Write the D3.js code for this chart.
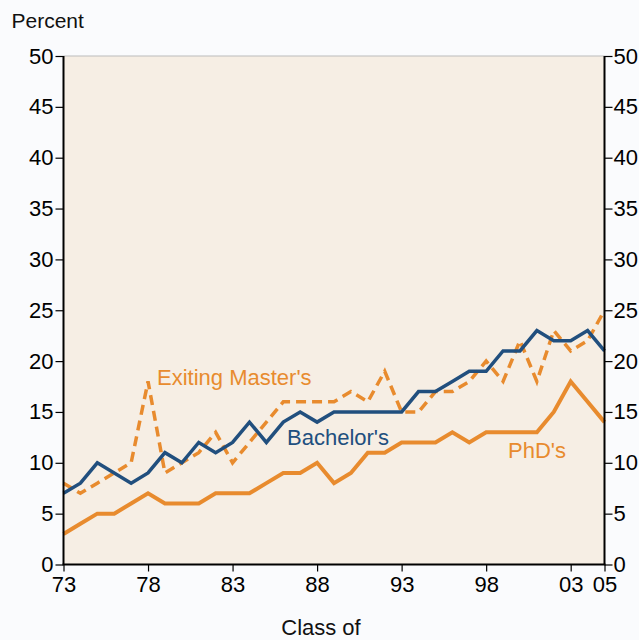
<!DOCTYPE html>
<html><head><meta charset="utf-8">
<script src="https://cdn.jsdelivr.net/npm/d3@7"></script>
<style>body{margin:0;background:#fafbfd;} svg{display:block;}</style>
</head><body>
<svg id="c" width="639" height="640"></svg>
<script>
const years = d3.range(1973, 2006);
const bachelors = [7,8,10,9,8,9,11,10,12,11,12,14,12,14,15,14,15,15,15,15,15,17,17,18,19,19,21,21,23,22,22,23,21];
const masters   = [8,7,8,9,10,18,9,10,11,13,10,12,14,16,16,16,16,17,16,19,15,15,17,17,18,20,18,22,18,23,21,22,25];
const phds      = [3,4,5,5,6,7,6,6,6,7,7,7,8,9,9,10,8,9,11,11,12,12,12,13,12,13,13,13,13,15,18,16,14];
const xTickYears = [1973,1978,1983,1988,1993,1998,2003,2005];
const yTicks = [0,5,10,15,20,25,30,35,40,45,50];

const svg = d3.select("#c");
const L = 63.5, R = 604.5, T = 56, B = 564.5;
const x = d3.scaleLinear().domain([1973, 2005]).range([L, R]);
const y = d3.scaleLinear().domain([0, 50]).range([B, T]);
const font = "Liberation Sans, Arial, sans-serif";
const blue = "#214f7e", orange = "#e88b2e";

svg.append("rect").attr("x", L).attr("y", T).attr("width", R - L).attr("height", B - T).attr("fill", "#f6eee4");

const line = d3.line().x((d, i) => x(years[i])).y(d => y(d));
svg.append("path").datum(phds).attr("d", line).attr("fill", "none").attr("stroke", orange).attr("stroke-width", 4).attr("stroke-linejoin", "miter");
svg.append("path").datum(masters).attr("d", line).attr("fill", "none").attr("stroke", orange).attr("stroke-width", 3.5).attr("stroke-dasharray", "10,6");
svg.append("path").datum(bachelors).attr("d", line).attr("fill", "none").attr("stroke", blue).attr("stroke-width", 3.5);

// frame
svg.append("line").attr("x1", L).attr("x2", R).attr("y1", T).attr("y2", T).attr("stroke", "#bbb").attr("stroke-width", 1);
svg.append("line").attr("x1", L).attr("x2", L).attr("y1", T).attr("y2", B).attr("stroke", "#000").attr("stroke-width", 2);
svg.append("line").attr("x1", R).attr("x2", R).attr("y1", T).attr("y2", B).attr("stroke", "#000").attr("stroke-width", 2);
svg.append("line").attr("x1", L-1).attr("x2", R+1).attr("y1", B).attr("y2", B).attr("stroke", "#000").attr("stroke-width", 2);

const fmtY = d => String(d);
const leftAxis = d3.axisLeft(y).tickValues(yTicks).tickFormat(fmtY).tickSize(8).tickPadding(2);
const gl = svg.append("g").attr("transform", `translate(${L},0)`).call(leftAxis);
const rightAxis = d3.axisRight(y).tickValues(yTicks).tickFormat(fmtY).tickSize(8).tickPadding(1);
const gr = svg.append("g").attr("transform", `translate(${R},0)`).call(rightAxis);
const bottomAxis = d3.axisBottom(x).tickValues(xTickYears).tickFormat(d => String(d % 100).padStart(2, "0")).tickSize(7).tickPadding(5);
const gb = svg.append("g").attr("transform", `translate(0,${B})`).call(bottomAxis);
[gl, gr, gb].forEach(g => {
  g.select(".domain").remove();
  g.selectAll(".tick line").attr("stroke", "#000").attr("stroke-width", 1.2);
  g.selectAll(".tick text").attr("font-family", font).attr("font-size", 22).attr("fill", "#000");
});

svg.append("text").attr("x", 11.5).attr("y", 28).attr("font-family", font).attr("font-size", 21).attr("fill", "#111").text("Percent");
svg.append("text").attr("x", 321).attr("y", 635).attr("text-anchor", "middle").attr("font-family", font).attr("font-size", 22).attr("fill", "#111").text("Class of");

svg.append("text").attr("x", 157).attr("y", 385).attr("font-family", font).attr("font-size", 22).attr("fill", orange).text("Exiting Master's");
svg.append("text").attr("x", 287).attr("y", 445).attr("font-family", font).attr("font-size", 22).attr("fill", blue).text("Bachelor's");
svg.append("text").attr("x", 508).attr("y", 458).attr("font-family", font).attr("font-size", 22).attr("fill", orange).text("PhD's");
</script>
</body></html>
